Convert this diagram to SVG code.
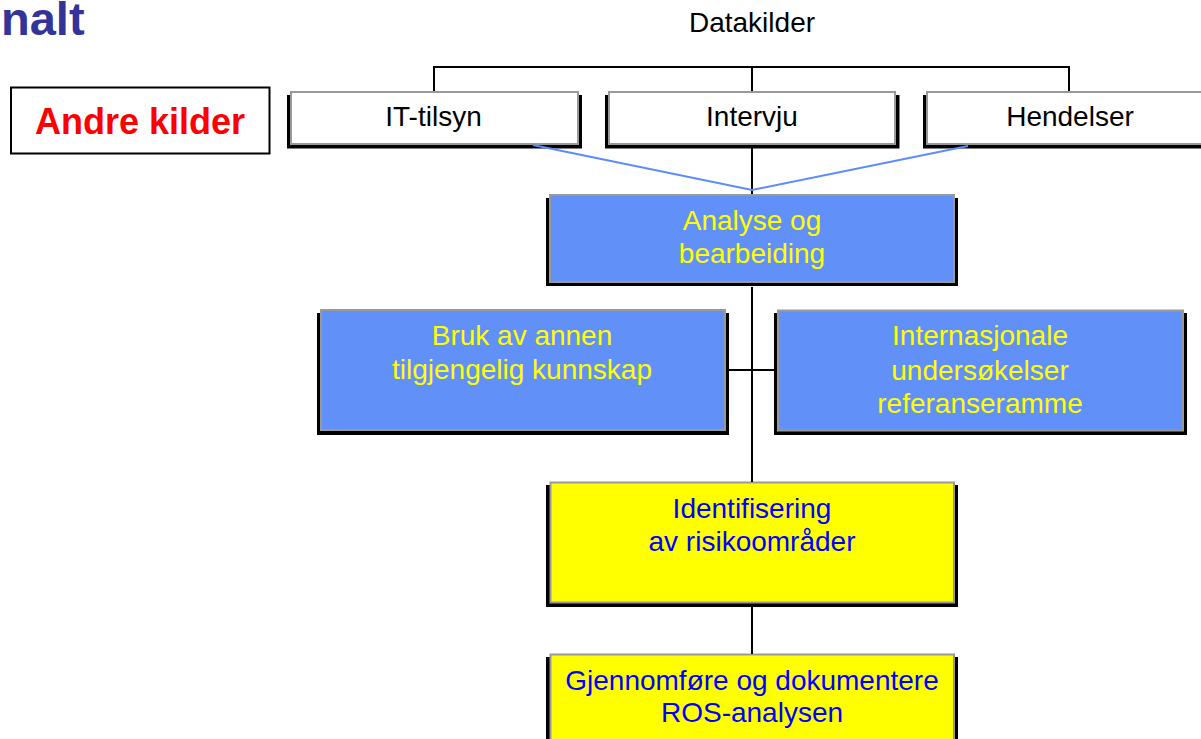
<svg xmlns="http://www.w3.org/2000/svg" width="1201" height="739" viewBox="0 0 1201 739">
<style>
text{font-family:"Liberation Sans",Arial,sans-serif;text-anchor:middle;font-size:28px}
.sh{fill:#000}
.w{fill:#fff;stroke:#999;stroke-width:2}
.b{fill:#6190F8;stroke:#999;stroke-width:2}
.y{fill:#FFFF00;stroke:#999;stroke-width:2}
.tk{fill:#000}
.ty{fill:#FFFF00}
.tb{fill:#0000FF}
.ln{stroke:#000;stroke-width:2;fill:none}
.bl{stroke:#5B8CFF;stroke-width:2;fill:none}
</style>
<rect width="1201" height="739" fill="#fff"/>
<text x="1" y="35" style="text-anchor:start;font-size:47px;font-weight:bold;fill:#333399">nalt</text>
<text x="752" y="32" class="tk">Datakilder</text>
<g id="andre">
<rect x="11" y="87.5" width="258.5" height="66" fill="#fff" stroke="#000" stroke-width="2"/>
<text x="140" y="134" style="font-size:36px;font-weight:bold;fill:#FF0000">Andre kilder</text>
</g>
<g id="it">
<rect class="sh" x="287" y="95" width="295" height="53.5"/>
<rect class="w" x="291" y="92" width="287" height="52"/>
<text x="433.5" y="126" class="tk">IT-tilsyn</text>
</g>
<g id="intervju">
<rect class="sh" x="605" y="95" width="294.5" height="53.5"/>
<rect class="w" x="609" y="92" width="286" height="52"/>
<text x="752" y="126" class="tk">Intervju</text>
</g>
<g id="hendelser">
<rect class="sh" x="923" y="95" width="295" height="53.5"/>
<rect class="w" x="927" y="92" width="287" height="52"/>
<text x="1070" y="126" class="tk">Hendelser</text>
</g>
<g id="analyse">
<rect class="sh" x="546" y="198" width="412" height="88"/>
<rect class="b" x="550" y="195" width="404" height="87"/>
<text x="752" y="230" class="ty">Analyse og</text>
<text x="752" y="263" class="ty">bearbeiding</text>
</g>
<g id="bruk">
<rect class="sh" x="317" y="313" width="412" height="122"/>
<rect class="b" x="321" y="310" width="404" height="120"/>
<text x="522" y="345" class="ty">Bruk av annen</text>
<text x="522" y="379" class="ty">tilgjengelig kunnskap</text>
</g>
<g id="internasjonale">
<rect class="sh" x="774" y="313" width="413" height="122"/>
<rect class="b" x="778" y="310.5" width="405" height="120"/>
<text x="980" y="345" class="ty">Internasjonale</text>
<text x="980" y="380" class="ty">undersøkelser</text>
<text x="980" y="413" class="ty">referanseramme</text>
</g>
<g id="identifisering">
<rect class="sh" x="546" y="485" width="412" height="122"/>
<rect class="y" x="550.5" y="482.5" width="403.5" height="120"/>
<text x="752" y="518" class="tb">Identifisering</text>
<text x="752" y="551" class="tb">av risikoområder</text>
</g>
<g id="gjennomfore">
<rect class="sh" x="546" y="657" width="412" height="100"/>
<rect class="y" x="550.5" y="654.5" width="403.5" height="100"/>
<text x="752" y="690" class="tb">Gjennomføre og dokumentere</text>
<text x="752" y="722" class="tb">ROS-analysen</text>
</g>
<g id="connectors">
<path class="ln" d="M434 91V67H1069V91M752 67V91M752 145V194M752 287V482M729 370H776M752 607V654"/>
<path class="bl" d="M533 145L752 190L968 146"/>
</g>
</svg>
